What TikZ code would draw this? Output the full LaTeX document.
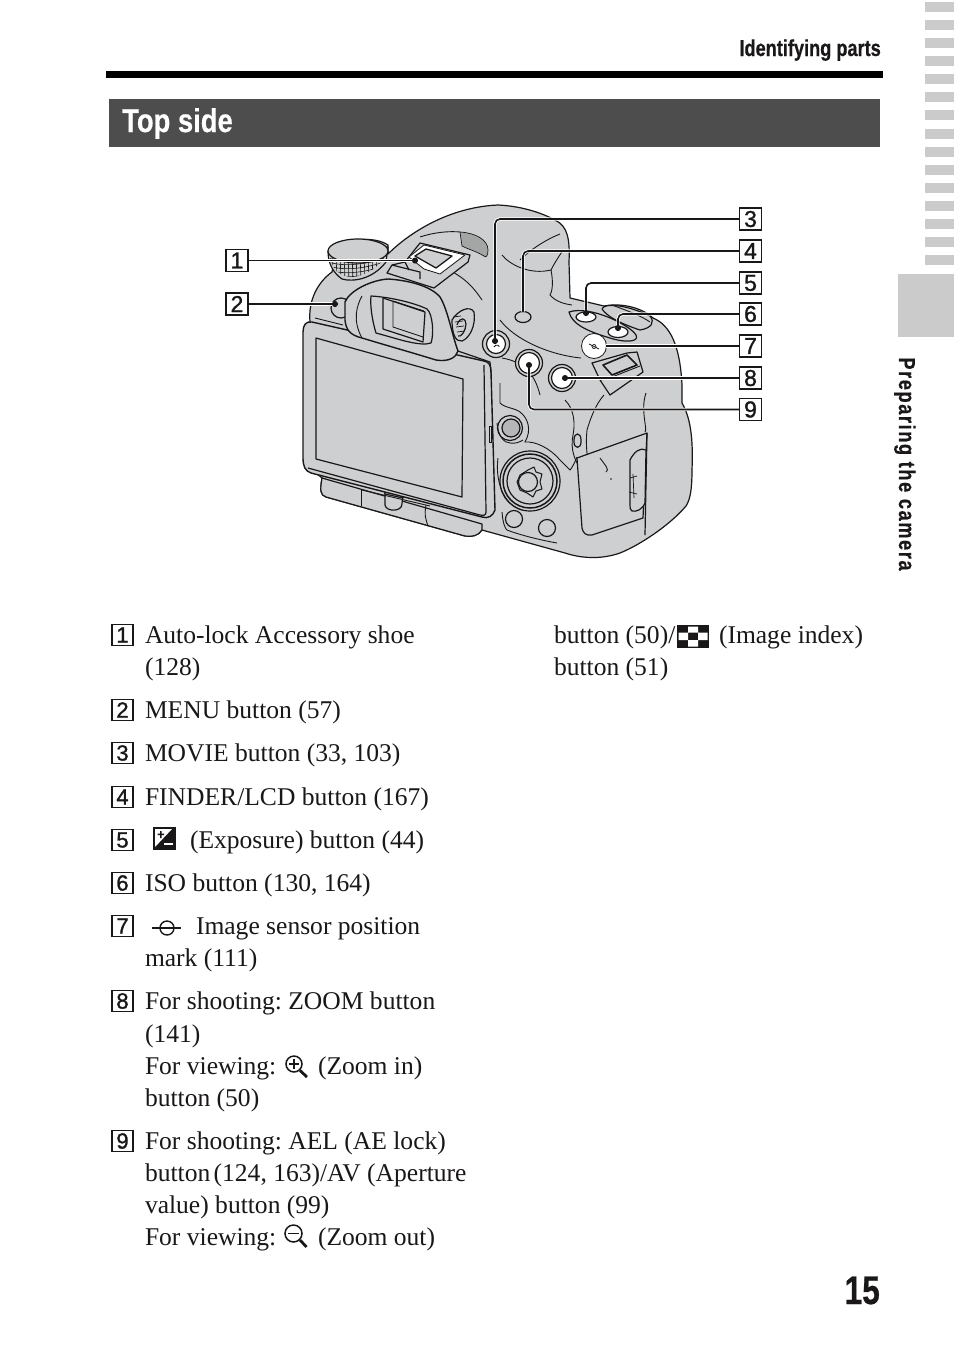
\documentclass[tikz,border=0pt]{standalone}
\usepackage{fontspec}
\usetikzlibrary{arrows.meta}
\setmainfont{Liberation Serif}
\newfontfamily\condfont[FakeStretch=0.79,FakeBold=0.6]{Liberation Sans Bold}
\newfontfamily\titlefont[FakeStretch=0.83,FakeBold=0.4]{Liberation Sans Bold}
\newfontfamily\sidefont[FakeStretch=0.79,FakeBold=0.4,LetterSpace=7]{Liberation Sans Bold}
\newfontfamily\numfont[FakeBold=1.2]{Liberation Sans}
\definecolor{camgray}{HTML}{CDCFD0}
\definecolor{bandgray}{HTML}{CBCBCB}
\definecolor{titlegray}{HTML}{4D4D4D}
\definecolor{linecol}{HTML}{1A1718}
\frenchspacing
\tikzset{
  x=1pt,y=-1pt,
  bodytext/.style={anchor=base west,inner sep=0pt,outer sep=0pt,font=\fontsize{25.55}{30}\selectfont,text=linecol},
  numbox/.style={draw=linecol,line width=1.3pt,minimum width=21pt,minimum height=21.5pt,inner sep=0pt,font=\fontsize{22}{22}\numfont,text=linecol},
  figbox/.style={numbox,fill=white,minimum width=22pt,minimum height=22pt,font=\fontsize{23}{23}\numfont},
  cam/.style={draw=linecol,line width=1.2pt,line join=round},
  thin cam/.style={draw=linecol,line width=.9pt},
  halo/.style={draw=white,line width=3.4pt,rounded corners=5pt},
  leader/.style={draw=linecol,line width=1.6pt,rounded corners=5pt},
  dotted leader/.style={leader,-{Circle[length=6pt,width=6pt]}},
  band/.style={fill=bandgray,draw=none},
}
\begin{document}
\begin{tikzpicture}
\useasboundingbox (0,0) rectangle (954,1345);
\fill[white] (0,0) rectangle (954,1345);
% page furniture
\foreach \y in {2,20,38,56,74,92,110,129,147,165,183,201,219,237,255}
  \fill[band] (925,\y) rectangle (954,\y+9.5);
\fill[band] (898,274) rectangle (954,337);
\fill[black] (106,71) rectangle (883,78);
\fill[titlegray] (109,99) rectangle (880,147);
\node[anchor=base east,inner sep=0pt,font=\fontsize{23}{23}\condfont,text=linecol] (hdr) at (881,56) {Identifying parts};
\node[anchor=base west,inner sep=0pt,font=\fontsize{33}{33}\titlefont,text=white] (title) at (122,132) {Top side};
\node[anchor=base,inner sep=0pt,rotate=-90,font=\fontsize{23}{23}\sidefont,text=linecol] (side) at (899,464) {Preparing the camera};
\node[anchor=base east,inner sep=0pt,font=\fontsize{40}{40}\condfont,text=linecol] (pg) at (880,1304) {15};
% ---- camera body
\path[cam,fill=camgray] (310,322) .. controls (308,300) and (318,282) .. (332,272)
  -- (336,250) .. controls (345,238) and (375,236) .. (388,245) -- (388,254)
  .. controls (410,232) and (450,207) .. (498,205)
  .. controls (520,206) and (540,212) .. (555,220)
  .. controls (568,226) and (570,240) .. (569,262)
  -- (570,298) -- (604,306) .. controls (625,302) and (645,310) .. (653,318)
  .. controls (670,325) and (680,345) .. (682,385)
  -- (682,403) .. controls (692,420) and (693,445) .. (692,470)
  .. controls (692,490) and (690,500) .. (686,506)
  .. controls (670,525) and (640,545) .. (620,553)
  .. controls (600,560) and (580,558) .. (565,553)
  -- (482,530) .. controls (478,536) and (472,537) .. (465,536)
  -- (326,497) .. controls (320,495) and (320,490) .. (322,478)
  -- (310,468) -- cycle;
% top dial
\path[cam,fill=camgray] (328,251) .. controls (328,262) and (332,272) .. (342,279)
  .. controls (352,282) and (372,280) .. (386,262) -- (388,247) -- cycle;
\begin{scope}
\clip (329,254) .. controls (332,270) and (340,277) .. (352,277) .. controls (365,276) and (378,268) .. (384,258) -- (360,262) -- cycle;
\foreach \x in {332,336,...,384} \draw[thin cam,line width=.6pt] (\x,252) -- (\x+1,282);
\foreach \y in {258,262,...,280} \draw[thin cam,line width=.6pt] (328,\y) .. controls (345,\y+5) and (365,\y+3) .. (390,\y-6);
\end{scope}
\draw[cam,fill=camgray] (358,251) ellipse[x radius=30,y radius=12];
% top hump detail
\path[draw=linecol,line width=.7pt,fill=camgray!80!black] (460,232) .. controls (476,233) and (488,240) .. (488,250) .. controls (488,256) and (486,258) .. (484,256) .. controls (478,252) and (470,250) .. (462,246) -- cycle;
\draw[thin cam] (420,237) .. controls (435,232) and (450,231) .. (460,232);
\draw[thin cam] (440,266) .. controls (462,275) and (472,285) .. (482,300);
% viewfinder hump lines
\draw[thin cam] (560,234) .. controls (545,240) and (530,250) .. (520,260);
\draw[thin cam] (502,255) .. controls (510,265) and (530,275) .. (551,270) .. controls (555,262) and (558,258) .. (563,250);
\draw[thin cam] (551,270) .. controls (553,280) and (553,290) .. (550,295) .. controls (556,302) and (565,304) .. (572,305);
\draw[thin cam] (500,320) .. controls (515,340) and (550,355) .. (581,358);
% dial area on right
\path[cam,fill=camgray] (569,312) .. controls (590,305) and (630,325) .. (636,335)
  .. controls (640,342) and (625,343) .. (610,338) .. controls (590,332) and (572,325) .. (569,312) -- cycle;
\path[cam,fill=camgray] (602,309) .. controls (604,303) and (625,304) .. (650,316)
  .. controls (655,322) and (652,328) .. (640,330) .. controls (625,325) and (608,318) .. (602,309) -- cycle;
\draw[thin cam] (612,305) .. controls (625,310) and (640,315) .. (650,322);
% strap lug
\path[cam,fill=camgray] (592,363) -- (627,353) -- (637,352) -- (643,372) -- (610,395) -- (600,380) -- cycle;
\path[cam,fill=camgray,line width=1.6pt] (603,365) -- (627,355) -- (637,365) -- (612,375) -- cycle;
\draw[thin cam] (601,380) -- (612,377) -- (640,366);
% grip lines
\draw[thin cam] (646,393) .. controls (640,410) and (648,430) .. (645,432);
\draw[thin cam] (604,395) .. controls (595,405) and (590,420) .. (587,430) .. controls (585,450) and (588,470) .. (597,482);
\draw[thin cam] (565,400) .. controls (575,410) and (575,425) .. (573,435) .. controls (570,450) and (575,462) .. (583,472);
\draw[thin cam] (502,358) .. controls (525,362) and (535,375) .. (540,395);
\draw[thin cam] (500,383) -- (500,403) .. controls (505,408) and (515,408) .. (520,412) .. controls (528,418) and (532,430) .. (525,442) .. controls (535,441) and (550,448) .. (560,460) -- (570,470) .. controls (572,468) and (575,462) .. (577,457);
\draw[thin cam] (497,423) .. controls (498,436) and (504,443) .. (510,443) .. controls (515,444) and (520,442) .. (523,440);
\path[cam,fill=camgray] (574,440) .. controls (574,432) and (581,432) .. (581,440) -- (581,442) .. controls (581,449) and (574,449) .. (574,442) -- cycle;
% grip panel
\path[cam,fill=camgray] (577,458) -- (647,433) -- (643,518) -- (592,535)
  .. controls (586,536) and (583,533) .. (582,528) -- cycle;
\draw[cam] (647,433) -- (645,535);
\path[cam,fill=camgray] (630,460) .. controls (634,452) and (640,447) .. (646,450) -- (645,503) .. controls (642,510) and (636,512) .. (632,511) .. controls (630,510) and (630,508) .. (630,505) -- cycle;
\draw[thin cam,line width=.7pt] (633,474) -- (634,498) (630,478) -- (637,476) (629,492) -- (637,494);
\draw[thin cam] (600,458) .. controls (605,465) and (610,470) .. (606,472);
\fill[linecol] (611,479) circle[radius=.8];
% AF button and controller
\draw[cam] (510,428) circle[radius=12.5];
\draw[cam,fill=camgray!88!black] (511,428) circle[radius=9];
\draw[thin cam] (498,458) .. controls (495,480) and (503,505) .. (522,510);
\draw[cam] (530,481) circle[radius=30];
\draw[cam,line width=1.5pt] (530,481) circle[radius=27];
\draw[cam] (530,481) circle[radius=23];
\path[cam,fill=camgray,line width=1pt] (528,470) -- (534,467) -- (536,472) -- (542,474) -- (540,482) -- (542,489) -- (536,491) -- (533,497) -- (527,493) -- (520,490) -- (517,482) -- (520,475) -- cycle;
\draw[cam,fill=camgray] (528,482) circle[radius=9.5];
\draw[cam,fill=camgray] (514,519) circle[radius=8.5];
\draw[cam,fill=camgray] (547,528) circle[radius=8.5];
\draw[thin cam] (502,512) .. controls (503,524) and (505,528) .. (507,530) .. controls (520,535) and (540,540) .. (557,543);
% lower flap and hinge
\path[cam,fill=camgray] (322,478) -- (482,524) -- (482,530) .. controls (478,536) and (472,537) .. (465,536)
  -- (326,497) .. controls (320,495) and (320,490) .. (322,478) -- cycle;
\draw[thin cam] (361,489) -- (361,506);
\draw[thin cam] (426,505) .. controls (424,515) and (426,520) .. (428,526);
\path[cam,fill=camgray] (385,489) -- (403,493) -- (402,504) .. controls (402,512) and (386,512) .. (385,505) -- cycle;
\draw[thin cam] (362,490) -- (430,506);
\path[cam,fill=camgray] (385,489) -- (403,493) -- (403,498) -- (385,494) -- cycle;
% ---- LCD panel
\path[cam,fill=camgray,line width=1.4pt] (303,332) .. controls (303,325) and (306,321) .. (312,322)
  -- (484,361) .. controls (489,362) and (491,365) .. (491,372)
  -- (495,510) .. controls (493,516) and (488,519) .. (482,517)
  -- (311,473) .. controls (305,471) and (303,466) .. (303,458) -- cycle;
\draw[cam] (484,365) -- (486,512) .. controls (486,515) and (484,516) .. (480,515) -- (308,468);
\path[cam,fill=camgray] (316,338) -- (463,379) -- (462,497) -- (316,459) -- cycle;
\draw[thin cam,fill=camgray] (489,426) rectangle (491,442);
\draw[cam] (455,350) -- (490,362) -- (491,373);
\draw[thin cam] (315,318) -- (343,325);
% button under eyecup
\draw[cam,fill=camgray] (341,308) circle[radius=10];
% ---- eyecup
\path[cam,fill=camgray,line width=1.4pt] (345,302) .. controls (350,290) and (372,280) .. (388,279)
  .. controls (405,280) and (430,285) .. (440,297)
  .. controls (448,310) and (452,335) .. (458,351)
  .. controls (456,358) and (448,362) .. (436,360)
  .. controls (410,352) and (385,345) .. (362,338)
  .. controls (350,335) and (346,330) .. (345,320) -- cycle;
\draw[thin cam] (362,296) .. controls (357,305) and (352,320) .. (362,338);
\path[cam,fill=camgray] (371,296) .. controls (390,297) and (415,303) .. (427,309)
  .. controls (433,314) and (434,335) .. (431,343) .. controls (420,347) and (395,338) .. (376,333)
  .. controls (372,320) and (370,305) .. (371,296) -- cycle;
\draw[cam] (383,298) -- (425,312) -- (423,342) -- (383,329) -- cycle;
\draw[thin cam] (393,301) -- (393,327) -- (423,337);
\draw[thin cam] (393,301) -- (424,311);
% eyepiece dial
\path[cam,fill=camgray] (452,320) .. controls (458,310) and (470,305) .. (474,312)
  .. controls (476,325) and (470,338) .. (462,341) .. controls (456,342) and (452,335) .. (452,320) -- cycle;
\draw[cam] (457,325) .. controls (460,316) and (466,318) .. (466,324) .. controls (466,330) and (461,338) .. (458,336);
\foreach \a/\b in {453/317,455/322,456/327,457/332} \draw[thin cam,line width=.7pt] (\a,\b) -- (\a+8,\b-1);
% ---- hot shoe
\path[cam,fill=camgray] (387,273) -- (392,265) -- (405,262) -- (420,243) -- (470,255) -- (468,262) -- (434,288) -- cycle;
\path[cam,fill=white,line width=.8pt] (409,257) -- (424,245) -- (465,255) -- (440,274) -- (424,269) -- cycle;
\path[cam,fill=camgray,line width=1.3pt] (415,256) -- (426,249) -- (452,256) -- (436,268) -- cycle;
\draw[thin cam,line width=1.2pt] (392,265) -- (420,272) -- (420,279);
\draw[thin cam,line width=1.2pt] (405,262) -- (409,270);
% ---- buttons
\draw[cam,fill=camgray] (496,344) circle[radius=13.5];
\draw[cam,fill=white] (496,344) circle[radius=9.5];
\draw[thin cam] (494,347) arc[start angle=200,end angle=330,radius=3];
\draw[cam,fill=camgray] (523,317) ellipse[x radius=8,y radius=5.5];
\draw[cam,fill=white] (586,317) ellipse[x radius=10,y radius=5];
\draw[cam,fill=white] (618,332) ellipse[x radius=10,y radius=5.5];
\draw[cam,fill=white,line width=.8pt] (594,346) circle[radius=12.5];
\draw[thin cam,line width=.7pt] (589,344) -- (599,349);
\draw[thin cam,line width=.7pt] (594,346.5) circle[radius=2];
\draw[cam,fill=camgray] (562,378) circle[radius=13.5];
\draw[cam,fill=white] (562,378) circle[radius=10.5];
\draw[cam,fill=camgray] (529,363) circle[radius=13.5];
\draw[cam,fill=white] (529,363) circle[radius=10.5];
% ---- number boxes on figure
\node[figbox] (f1) at (237,260.5) {1};
\node[figbox] (f2) at (237,304) {2};
\node[figbox] (f3) at (750.5,219) {3};
\node[figbox] (f4) at (750.5,251) {4};
\node[figbox] (f5) at (750.5,283) {5};
\node[figbox] (f6) at (750.5,314) {6};
\node[figbox] (f7) at (750.5,346) {7};
\node[figbox] (f8) at (750.5,378) {8};
\node[figbox] (f9) at (750.5,409.5) {9};
\coordinate (t1) at (418,260.5);
\coordinate (t2) at (338,304);
\coordinate (t3) at (495,344);
\coordinate (t4) at (523,312);
\coordinate (t5) at (586,316);
\coordinate (t6) at (618,331);
\coordinate (t7) at (606,346);
\coordinate (t8) at (562,378);
\coordinate (t9) at (529,362);
\foreach \n in {1,2,8,7} \draw[halo] (f\n) -- (t\n);
\draw[halo] (f3.west) -- (t3 |- f3) -- (t3);
\draw[halo] (f4.west) -- (t4 |- f4) -- (t4);
\draw[halo] (f5.west) -- (t5 |- f5) -- (t5);
\draw[halo] (f6.west) -- (t6 |- f6) -- (t6);
\draw[halo] (f9.west) -- (t9 |- f9) -- (t9);
\draw[dotted leader] (f1.east) -- (t1);
\draw[dotted leader] (f2.east) -- (t2);
\draw[dotted leader] (f3.west) -- (t3 |- f3) -- (t3);
\draw[leader] (f4.west) -- (t4 |- f4) -- (t4);
\draw[dotted leader] (f5.west) -- (t5 |- f5) -- (t5);
\draw[dotted leader] (f6.west) -- (t6 |- f6) -- (t6);
\draw[leader] (f7.west) -- (t7);
\draw[dotted leader] (f8.west) -- (t8);
\draw[dotted leader] (f9.west) -- (t9 |- f9) -- (t9);
% redraw boxes above halos
\foreach \n/\x/\y in {1/237/260.5,2/237/304,3/750.5/219,4/750.5/251,5/750.5/283,6/750.5/314,7/750.5/346,8/750.5/378,9/750.5/409.5}
  \node[figbox] at (\x,\y) {\n};
% ---- text column
\foreach \n/\y in {1/635,2/710,3/753,4/797,5/840,6/883,7/926,8/1001,9/1141}
  \node[numbox] (n\n) at (122.5,\y) {\n};
\node[bodytext] (l1a) at (145,643.4) {Auto-lock Accessory shoe};
\node[bodytext] (l1b) at (145,675.4) {(128)};
\node[bodytext] (l2) at (145,718.4) {MENU button (57)};
\node[bodytext] (l3) at (145,761.4) {MOVIE button (33, 103)};
\node[bodytext] (l4) at (145,805.4) {FINDER/LCD button (167)};
\node[bodytext] (l5) at (190,848.4) {(Exposure) button (44)};
\node[bodytext] (l6) at (145,891.4) {ISO button (130, 164)};
\node[bodytext] (l7a) at (196,934.4) {Image sensor position};
\node[bodytext] (l7b) at (145,966.4) {mark (111)};
\node[bodytext] (l8a) at (145,1009.4) {For shooting: ZOOM button};
\node[bodytext] (l8b) at (145,1042.4) {(141)};
\node[bodytext] (l8c) at (145,1074.4) {For viewing:};
\node[bodytext] (l8d) at (318,1074.4) {(Zoom in)};
\node[bodytext] (l8e) at (145,1106.4) {button (50)};
\node[bodytext] (l9a) at (145,1149.4) {For shooting: AEL (AE lock)};
\node[bodytext] (l9b) at (145,1181.4) {button\hspace{-3pt} (124, 163)/AV (Aperture};
\node[bodytext] (l9c) at (145,1213.4) {value) button (99)};
\node[bodytext] (l9d) at (145,1245.4) {For viewing:};
\node[bodytext] (l9e) at (318,1245.4) {(Zoom out)};
\node[bodytext] (r1a) at (554,643.4) {button (50)/};
\node[bodytext] (r1b) at (719,643.4) {(Image index)};
\node[bodytext] (r2) at (554,675.4) {button (51)};
% exposure icon
\fill[linecol] (153,827) rectangle (176,850);
\fill[white] (155,829) -- (172,829) -- (155,847) -- cycle;
\fill[linecol] (157.5,833.6) rectangle (164,835.2) (160,831) rectangle (161.6,838);
\fill[white] (164,842.5) rectangle (173,845);
% sensor mark
\draw[linecol,line width=1.4pt] (152,928) -- (181,928);
\draw[linecol,line width=1.4pt] (167,928) circle[radius=7];
% magnifiers
\draw[linecol,line width=1.5pt] (294,1064) circle[radius=8];
\draw[linecol,line width=2.8pt] (300,1070.5) -- (307,1077);
\draw[linecol,line width=1.5pt] (289,1064) -- (299,1064) (294,1059) -- (294,1069);
\draw[linecol,line width=1.5pt] (293.5,1233.5) circle[radius=8.5];
\draw[linecol,line width=2.8pt] (300,1240) -- (306.5,1247);
\draw[linecol,line width=1.7pt] (288,1233.5) -- (299,1233.5);
% index icon
\fill[linecol] (677,625) rectangle (709,648);
\fill[white] (688,626.5) rectangle (698,632.5) (678.5,632.5) rectangle (688,640) (698,632.5) rectangle (707.5,640) (688,640) rectangle (698,646.5);
\end{tikzpicture}
\end{document}
